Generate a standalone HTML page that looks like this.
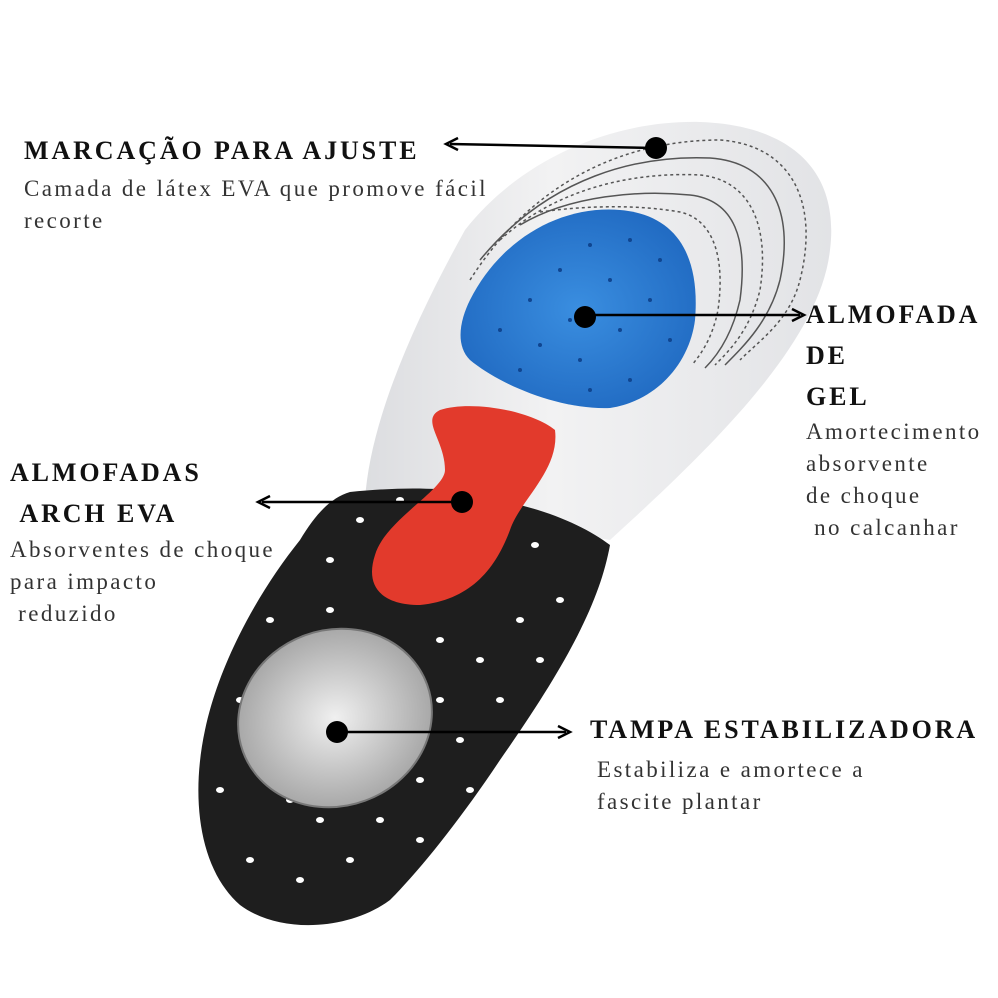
<!DOCTYPE html>
<html><head><meta charset="utf-8"><style>
html,body{margin:0;padding:0;background:#fff}
#w{position:relative;width:998px;height:998px;overflow:hidden;font-family:"Liberation Serif",serif;color:#222}
.h{position:absolute;font-weight:bold;font-size:26px;letter-spacing:2.9px;color:#111;white-space:nowrap}
.b{position:absolute;font-size:23px;letter-spacing:2.4px;color:#333;line-height:32px;white-space:pre}
svg{position:absolute;left:0;top:0}
</style></head><body><div id="w">
<svg width="998" height="998" viewBox="0 0 998 998">
<defs>
<linearGradient id="g1" x1="0" y1="0" x2="1" y2="0"><stop offset="0" stop-color="#dcdde0"/><stop offset="0.4" stop-color="#f2f2f3"/><stop offset="1" stop-color="#e2e3e6"/></linearGradient>
<radialGradient id="gb" cx="0.5" cy="0.5" r="0.6"><stop offset="0" stop-color="#3a8ee0"/><stop offset="1" stop-color="#1f68c0"/></radialGradient>
<radialGradient id="gg" cx="0.5" cy="0.5" r="0.6"><stop offset="0" stop-color="#f0f0f0"/><stop offset="1" stop-color="#9a9a9a"/></radialGradient>
</defs>
<path d="M700,122 C790,125 840,170 830,250 C820,340 720,440 610,540 L365,500 C370,420 415,320 465,230 C520,160 610,120 700,122 Z" fill="url(#g1)"/>
<g fill="none" stroke="#555" stroke-width="1.5">
<path d="M470,280 C540,170 640,140 720,140 C790,145 820,200 800,280 C790,320 760,340 740,360" stroke-dasharray="3,3"/>
<path d="M480,260 C550,175 640,155 710,158 C770,162 795,210 780,280 C770,320 745,345 725,365"/>
<path d="M500,240 C560,185 640,172 700,175 C750,180 770,225 760,290 C750,330 730,350 715,365" stroke-dasharray="3,3"/>
<path d="M520,225 C570,195 640,190 690,195 C735,200 748,240 740,300 C732,335 718,355 705,368"/>
<path d="M540,212 C590,205 640,205 680,212 C715,220 725,260 718,310 C712,340 700,355 692,365" stroke-dasharray="3,3"/>
</g>
<path d="M350,492 C420,485 470,488 520,505 C560,515 590,530 610,545 C600,600 570,660 500,760 C460,820 420,870 390,900 C350,930 280,935 240,905 C200,870 190,800 205,730 C220,660 260,590 300,540 C315,515 330,498 350,492 Z" fill="#1e1e1e"/>
<path d="M470,300 C500,240 560,205 620,210 C680,215 700,260 695,320 C690,360 660,400 610,408 C560,410 500,385 470,360 C455,345 460,320 470,300 Z" fill="url(#gb)"/>
<g fill="#0f4590">
<circle cx="500" cy="330" r="2"/><circle cx="530" cy="300" r="2"/><circle cx="560" cy="270" r="2"/><circle cx="590" cy="245" r="2"/><circle cx="630" cy="240" r="2"/><circle cx="660" cy="260" r="2"/><circle cx="540" cy="345" r="2"/><circle cx="580" cy="360" r="2"/><circle cx="620" cy="330" r="2"/><circle cx="650" cy="300" r="2"/><circle cx="610" cy="280" r="2"/><circle cx="570" cy="320" r="2"/><circle cx="630" cy="380" r="2"/><circle cx="670" cy="340" r="2"/><circle cx="520" cy="370" r="2"/><circle cx="590" cy="390" r="2"/>
</g>
<path d="M440,410 C470,400 530,410 555,430 C560,470 520,500 510,530 C495,570 470,600 420,605 C380,605 365,585 375,555 C385,520 445,490 445,470 C445,440 420,420 440,410 Z" fill="#e23a2c"/>
<g fill="#fff">
<ellipse cx="535" cy="545" rx="4" ry="3"/><ellipse cx="560" cy="600" rx="4" ry="3"/><ellipse cx="520" cy="620" rx="4" ry="3"/><ellipse cx="480" cy="660" rx="4" ry="3"/><ellipse cx="440" cy="640" rx="4" ry="3"/><ellipse cx="500" cy="700" rx="4" ry="3"/><ellipse cx="460" cy="740" rx="4" ry="3"/><ellipse cx="420" cy="780" rx="4" ry="3"/><ellipse cx="470" cy="790" rx="4" ry="3"/><ellipse cx="380" cy="820" rx="4" ry="3"/><ellipse cx="420" cy="840" rx="4" ry="3"/><ellipse cx="350" cy="860" rx="4" ry="3"/><ellipse cx="300" cy="880" rx="4" ry="3"/><ellipse cx="250" cy="860" rx="4" ry="3"/><ellipse cx="220" cy="790" rx="4" ry="3"/><ellipse cx="240" cy="700" rx="4" ry="3"/><ellipse cx="270" cy="620" rx="4" ry="3"/><ellipse cx="330" cy="560" rx="4" ry="3"/><ellipse cx="360" cy="520" rx="4" ry="3"/><ellipse cx="330" cy="610" rx="4" ry="3"/><ellipse cx="400" cy="500" rx="4" ry="3"/><ellipse cx="440" cy="700" rx="4" ry="3"/><ellipse cx="370" cy="780" rx="4" ry="3"/><ellipse cx="320" cy="820" rx="4" ry="3"/><ellipse cx="290" cy="800" rx="4" ry="3"/><ellipse cx="540" cy="660" rx="4" ry="3"/>
</g>
<ellipse cx="335" cy="718" rx="98" ry="88" transform="rotate(-20 335 718)" fill="url(#gg)" stroke="#777" stroke-width="2"/>
<g stroke="#000" stroke-width="2.5" fill="none">
<line x1="655" y1="148" x2="450" y2="144"/><path d="M458,138 L446,144 L458,150"/>
<line x1="585" y1="315" x2="800" y2="315"/><path d="M792,309 L804,315 L792,321"/>
<line x1="462" y1="502" x2="262" y2="502"/><path d="M270,496 L258,502 L270,508"/>
<line x1="337" y1="732" x2="566" y2="732"/><path d="M558,726 L570,732 L558,738"/>
</g>
<g fill="#000"><circle cx="656" cy="148" r="11"/><circle cx="585" cy="317" r="11"/><circle cx="462" cy="502" r="11"/><circle cx="337" cy="732" r="11"/></g>
</svg>
<div class="h" style="left:24px;top:136px">MARCAÇÃO PARA AJUSTE</div>
<div class="b" style="left:24px;top:173px">Camada de látex EVA que promove fácil
recorte</div>
<div class="h" style="left:806px;top:294px;line-height:41px">ALMOFADA<br>DE<br>GEL</div>
<div class="b" style="left:806px;top:416px">Amortecimento
absorvente
de choque
 no calcanhar</div>
<div class="h" style="left:10px;top:452px;line-height:41px">ALMOFADAS<br>&nbsp;ARCH EVA</div>
<div class="b" style="left:10px;top:534px">Absorventes de choque
para impacto
 reduzido</div>
<div class="h" style="left:590px;top:715px">TAMPA ESTABILIZADORA</div>
<div class="b" style="left:597px;top:754px">Estabiliza e amortece a
fascite plantar</div>
</div></body></html>
